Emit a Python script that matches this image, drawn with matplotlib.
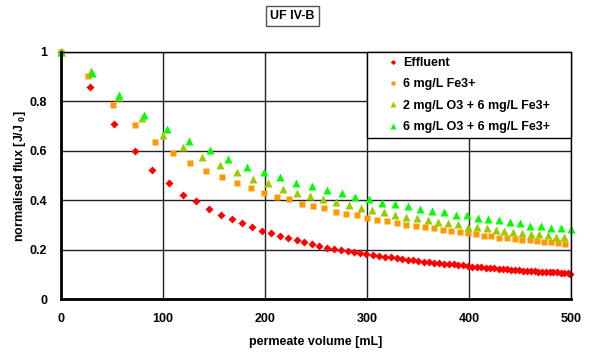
import matplotlib
matplotlib.use('Agg')
import matplotlib.pyplot as plt

# normalised flux vs permeate volume
effluent_x = [0, 28.4, 52.2, 72.4, 89.7, 105.4, 119.7, 132.8, 145, 156.6, 167.6, 177.8, 187.6, 196.7, 205.8,
              214.6, 222.8, 230.9, 238.6, 246.3, 253.4, 260.6, 267.5, 274.3, 281.2, 287.1, 293.6, 299.5, 305.7,
              311.5, 317.8, 323.2, 329, 334.5, 339.8, 345.1, 350.3, 355.5, 360.7, 365.6, 370.5, 375.4, 380.3,
              385.2, 389.7, 394.3, 398.9, 403.4, 407.7, 411.9, 416.5, 420.6, 424.8, 429, 433.2, 437.2, 441.3,
              445.2, 449.1, 453, 456.9, 460.5, 464.4, 467.9, 471.8, 475.5, 479, 482.6, 486.2, 489.9, 493.4,
              496.7, 499.5]
effluent_y = [1.0, 0.857, 0.708, 0.600, 0.523, 0.469, 0.423, 0.396, 0.364, 0.342, 0.323, 0.307, 0.291, 0.277,
              0.269, 0.256, 0.248, 0.240, 0.233, 0.222, 0.217, 0.209, 0.205, 0.199, 0.197, 0.191, 0.186, 0.184,
              0.179, 0.176, 0.171, 0.170, 0.167, 0.163, 0.159, 0.158, 0.155, 0.151, 0.151, 0.148, 0.147, 0.144,
              0.142, 0.142, 0.137, 0.137, 0.135, 0.132, 0.132, 0.131, 0.128, 0.127, 0.125, 0.123, 0.123, 0.124,
              0.120, 0.117, 0.117, 0.116, 0.114, 0.114, 0.113, 0.112, 0.112, 0.110, 0.110, 0.109, 0.109, 0.108,
              0.108, 0.105, 0.104]

fe_x = [0, 26.7, 51.2, 72.4, 91.7, 109.9, 126.5, 142.6, 157.8, 172.2, 185.9, 198.9, 211.6, 223.7, 235.9,
        247.2, 258.2, 269.6, 279.7, 290.2, 300.2, 310, 319.5, 329.3, 338.7, 347.6, 356.4, 365.2, 374.1, 382.6,
        390.7, 398.9, 406.7, 414.5, 422, 429.8, 437.7, 445.2, 452.3, 459.5, 466.7, 473.8, 480.7, 487.5, 494.4]
fe_y = [1.0, 0.902, 0.784, 0.704, 0.637, 0.590, 0.550, 0.520, 0.496, 0.469, 0.450, 0.431, 0.415, 0.404, 0.386,
        0.376, 0.368, 0.354, 0.345, 0.340, 0.329, 0.321, 0.317, 0.310, 0.300, 0.295, 0.292, 0.287, 0.280, 0.275,
        0.271, 0.269, 0.264, 0.256, 0.256, 0.247, 0.249, 0.243, 0.240, 0.241, 0.235, 0.233, 0.233, 0.226, 0.224]

o3_2_x = [0, 29, 55.5, 79.5, 100.1, 120, 138, 155.6, 172.5, 188, 203.2, 217.5, 231.2, 244.6, 257, 270, 282.1,
          293.8, 305.3, 316.7, 327.8, 338.3, 348.6, 359.4, 369.2, 379, 388.8, 398.6, 407.7, 417.2, 426, 434.8,
          443.6, 452.1, 460.6, 468.7, 477.2, 485.3, 493.4]
o3_2_y = [1.0, 0.924, 0.819, 0.732, 0.664, 0.616, 0.574, 0.542, 0.516, 0.485, 0.469, 0.447, 0.431, 0.417, 0.404,
          0.392, 0.381, 0.368, 0.360, 0.352, 0.341, 0.334, 0.327, 0.322, 0.311, 0.308, 0.303, 0.294, 0.291, 0.287,
          0.280, 0.276, 0.273, 0.268, 0.264, 0.263, 0.260, 0.252, 0.251]

o3_6_x = [0, 30, 57, 81.2, 104.4, 125.6, 145.9, 164.2, 182, 198.9, 215, 230.8, 246.3, 260.6, 275, 288.7, 301.7,
          315.1, 327.5, 339.8, 351.9, 363.7, 375.4, 386.8, 397.6, 408.7, 419.1, 429.6, 440, 450.1, 460.2, 470.4,
          480.1, 489.9, 499.7]
o3_6_y = [1.0, 0.916, 0.826, 0.746, 0.689, 0.640, 0.603, 0.566, 0.536, 0.515, 0.495, 0.472, 0.458, 0.442, 0.431,
          0.415, 0.407, 0.388, 0.384, 0.377, 0.364, 0.357, 0.352, 0.341, 0.341, 0.327, 0.323, 0.321, 0.311, 0.308,
          0.296, 0.296, 0.290, 0.287, 0.284]

labels = ['Effluent', '6 mg/L Fe3+', '2 mg/L O3 + 6 mg/L Fe3+', '6 mg/L O3 + 6 mg/L Fe3+']

plt.rcParams['font.family'] = ['Liberation Sans', 'DejaVu Sans']
plt.rcParams['font.weight'] = 'bold'
plt.rcParams['mathtext.fontset'] = 'custom'
plt.rcParams['mathtext.bf'] = 'Liberation Sans:bold'
plt.rcParams['mathtext.rm'] = 'Liberation Sans:bold'

fig = plt.figure(figsize=(5.92, 3.53), dpi=100)
ax = fig.add_axes([61 / 592, 1 - 299.3 / 353, 510 / 592, 247.3 / 353])

ax.plot(effluent_x, effluent_y, 'D', color='#FF0000', markersize=3.8, mec='none', label=labels[0], clip_on=False)
ax.plot(fe_x, fe_y, 's', color='#FF9900', markersize=5, mec='none', label=labels[1], clip_on=False)
ax.plot(o3_2_x, o3_2_y, '^', color='#99CC00', markersize=5.5, mec='none', label=labels[2], clip_on=False)
ax.plot(o3_6_x, o3_6_y, '^', color='#00FF00', markersize=5.5, mec='none', label=labels[3], clip_on=False)

ax.set_xlim(0, 500)
ax.set_ylim(0, 1)
ax.set_xticks([0, 100, 200, 300, 400, 500])
ax.set_yticks([0, 0.2, 0.4, 0.6, 0.8, 1])
ax.set_yticklabels(['0', '0.2', '0.4', '0.6', '0.8', '1'])
ax.grid(True, color='#222222', linewidth=1)
ax.set_axisbelow(True)
ax.tick_params(length=0, labelsize=9, pad=10)
for side in ['left', 'bottom']:
    ax.spines[side].set_linewidth(2)
for side in ['top', 'right']:
    ax.spines[side].set_linewidth(1)

ax.set_xlabel('permeate volume [mL]', fontsize=9, fontweight='bold', labelpad=8)
ax.set_ylabel(r'normalised flux [J/J $_{\mathbf{0}}$]', fontsize=9, fontweight='bold', labelpad=1)

leg = ax.legend(loc='upper left', bbox_to_anchor=(0.6, 1.0, 0.4, 0.0), mode='expand', borderaxespad=0,
                fancybox=False, framealpha=1, edgecolor='black', fontsize=9, numpoints=1,
                handlelength=3.4, handletextpad=-0.9, labelspacing=0.75, markerscale=0.7)
leg.get_frame().set_linewidth(1)
for t in leg.get_texts():
    t.set_fontweight('bold')

fig.text(292.5 / 592, 1 - 16 / 353, 'UF IV-B', ha='center', va='center', fontsize=9, fontweight='bold',
         bbox=dict(boxstyle='square,pad=0.35', facecolor='white', edgecolor='#555555', linewidth=1))

fig.savefig('out.png', dpi=100)
